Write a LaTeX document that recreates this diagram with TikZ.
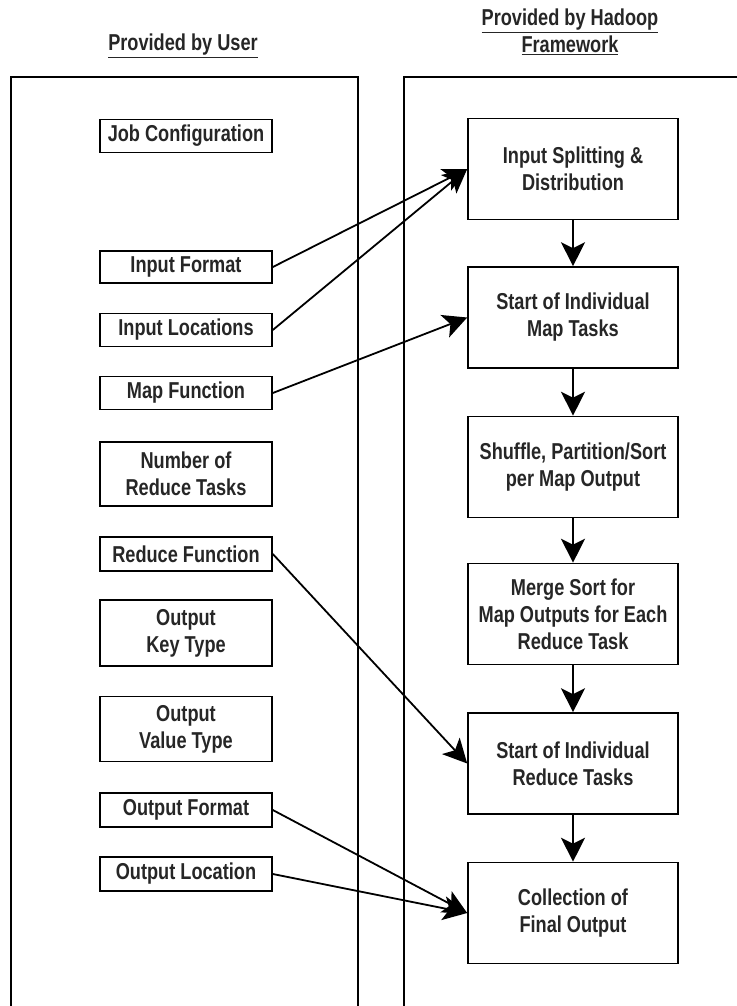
\documentclass[tikz,border=0pt]{standalone}
\usepackage{fontspec}
\setmainfont{Liberation Sans}[FakeStretch=0.79]
\usetikzlibrary{arrows.meta}

\begin{document}
\begin{tikzpicture}[x=1pt,y=-1pt,
    every node/.style={font=\bfseries\fontsize{23}{27}\selectfont,align=center,text=black!85},
    ubox/.style={draw,line width=1.6pt,minimum width=172pt,inner sep=2pt},
    hbox/.style={draw,line width=1.6pt,minimum width=210pt,minimum height=101pt,inner sep=2pt},
    panel/.style={line width=1.2pt},
    flow/.style={line width=1.8pt,-{Stealth[length=24pt,width=24pt,inset=6pt]}}]
  \useasboundingbox (0,0) rectangle (736,1006);
  \draw[panel] (11,1010) -- (11,77) -- (358,77) -- (358,1010);
  \draw[panel] (404,1010) -- (404,77) -- (740,77);
  \node (user) at (183,46) {\underline{Provided by User}};
  \node (hadoop) at (570,32) {\underline{Provided by Hadoop}\\\underline{Framework}};

  \node[ubox,minimum height=33pt] (jobconf) at (186,136) {Job Configuration};
  \node[ubox,minimum height=32pt] (informat) at (186,267) {Input Format};
  \node[ubox,minimum height=33pt] (inloc) at (186,330) {Input Locations};
  \node[ubox,minimum height=33pt] (mapfn) at (186,393) {Map Function};
  \node[ubox,minimum height=64pt] (numred) at (186,474) {Number of\\Reduce Tasks};
  \node[ubox,minimum height=34pt] (redfn) at (186,554) {Reduce Function};
  \node[ubox,minimum height=66pt] (outkey) at (186,633) {Output\\Key Type};
  \node[ubox,minimum height=65pt] (outval) at (186,729) {Output\\Value Type};
  \node[ubox,minimum height=34pt] (outfmt) at (186,810) {Output Format};
  \node[ubox,minimum height=34pt] (outloc) at (186,874) {Output Location};

  \node[hbox] (split) at (573,169) {Input Splitting \&\\Distribution};
  \node[hbox] (maptasks) at (573,317.5) {Start of Individual\\Map Tasks};
  \node[hbox] (shuffle) at (573,467) {Shuffle, Partition/Sort\\per Map Output};
  \node[hbox] (merge) at (573,614) {Merge Sort for\\Map Outputs for Each\\Reduce Task};
  \node[hbox] (redtasks) at (573,763.5) {Start of Individual\\Reduce Tasks};
  \node[hbox] (collect) at (573,913) {Collection of\\Final Output};

  \draw[flow] (split) -- (maptasks);
  \draw[flow] (maptasks) -- (shuffle);
  \draw[flow] (shuffle) -- (merge);
  \draw[flow] (merge) -- (redtasks);
  \draw[flow] (redtasks) -- (collect);

  \draw[flow] (informat.east) -- (split.west);
  \draw[flow] (inloc.east) -- (split.west);
  \draw[flow] (mapfn.east) -- (maptasks.west);
  \draw[flow] (redfn.east) -- (redtasks.west);
  \draw[flow] (outfmt.east) -- (collect.west);
  \draw[flow] (outloc.east) -- (collect.west);
\end{tikzpicture}
\end{document}
